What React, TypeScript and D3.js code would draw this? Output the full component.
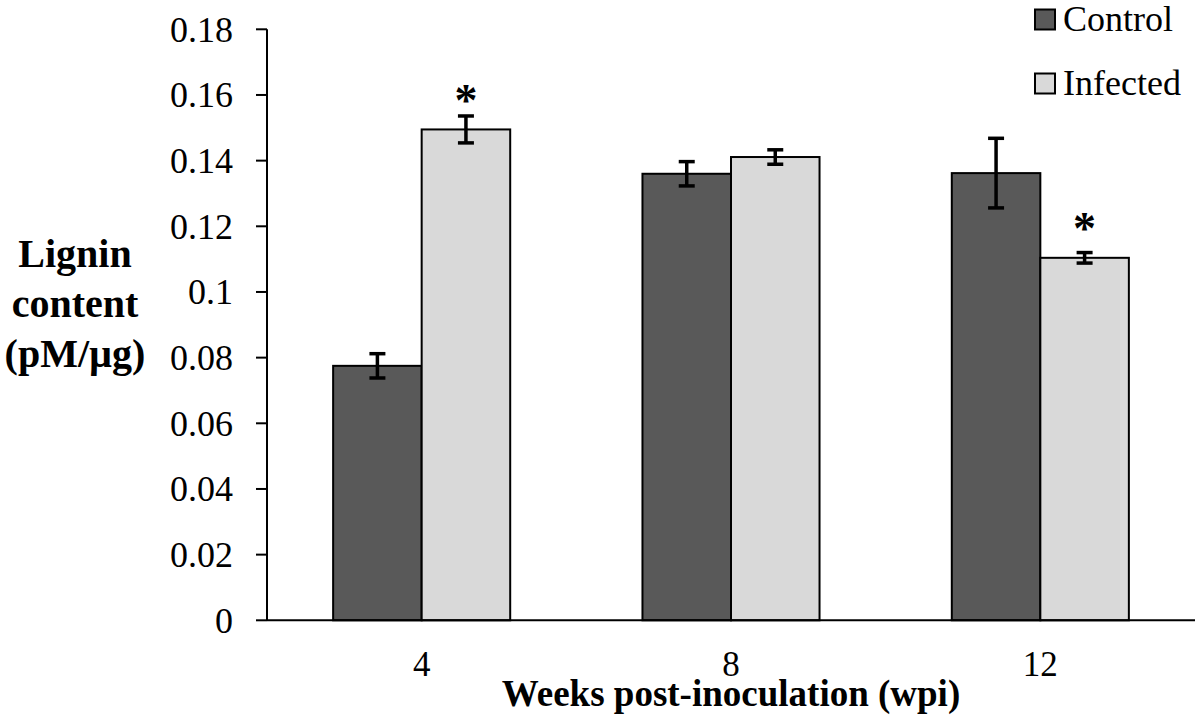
import React from "react";
import * as d3 from "d3";

const weeks = ["4", "8", "12"];
const seriesNames = ["Control", "Infected"];
const controlMeans = [0.0775, 0.136, 0.1362];
const controlErrors = [0.0037, 0.0037, 0.0106];
const infectedMeans = [0.1495, 0.1411, 0.1104];
const infectedErrors = [0.0041, 0.0022, 0.0016];
const significant = [
  [false, true],
  [false, false],
  [false, true],
];
const yTicks = [0, 0.02, 0.04, 0.06, 0.08, 0.1, 0.12, 0.14, 0.16, 0.18];
const yTitleLines = ["Lignin", "content", "(pM/µg)"];
const xTitle = "Weeks post-inoculation (wpi)";

const colors = ["#595959", "#d9d9d9"];
const serif = { fontFamily: "'Liberation Serif'" };

export default function App() {
  const width = 1200;
  const height = 722;
  const left = 267;
  const right = 1195;
  const top = 29.3;
  const bottom = 620.3;

  const x = d3.scaleBand<string>().domain(weeks).range([left, right]);
  const xSub = d3
    .scaleBand<string>()
    .domain(seriesNames)
    .range([0, x.bandwidth()])
    .paddingInner(0)
    .paddingOuter(0.747);
  const y = d3.scaleLinear().domain([0, 0.18]).range([bottom, top]);

  const means = [controlMeans, infectedMeans];
  const errors = [controlErrors, infectedErrors];
  const fmt = (v: number) => String(+v.toFixed(2));

  return (
    <div style={{ position: "fixed", left: 0, top: 0 }}>
      <svg width={width} height={height} style={{ display: "block", background: "#fff" }}>
        {/* bars */}
        {seriesNames.map((name, s) =>
          weeks.map((w, i) => (
            <rect
              key={name + w}
              x={(x(w) as number) + (xSub(name) as number)}
              y={y(means[s][i])}
              width={xSub.bandwidth()}
              height={bottom - y(means[s][i])}
              fill={colors[s]}
              stroke="#000"
              strokeWidth={2}
            />
          ))
        )}

        {/* error bars and significance marks */}
        {seriesNames.map((name, s) =>
          weeks.map((w, i) => {
            const cx = (x(w) as number) + (xSub(name) as number) + xSub.bandwidth() / 2;
            const hi = y(means[s][i] + errors[s][i]);
            const lo = y(means[s][i] - errors[s][i]);
            return (
              <g key={"e" + name + w}>
                <g stroke="#000" strokeWidth={3.5}>
                  <line x1={cx} x2={cx} y1={hi} y2={lo} />
                  <line x1={cx - 8} x2={cx + 8} y1={hi} y2={hi} />
                  <line x1={cx - 8} x2={cx + 8} y1={lo} y2={lo} />
                </g>
                {significant[i][s] && (
                  <text
                    x={cx}
                    y={y(means[s][i]) - 13.5}
                    textAnchor="middle"
                    style={{ ...serif, fontWeight: "bold", fontSize: 46 }}
                  >
                    *
                  </text>
                )}
              </g>
            );
          })
        )}

        {/* y axis */}
        <line x1={left} x2={left} y1={top} y2={bottom} stroke="#000" strokeWidth={2} />
        {yTicks.map((t) => (
          <g key={t} transform={`translate(0,${y(t)})`}>
            <line x1={left - 11} x2={left} stroke="#000" strokeWidth={2} />
            <text x={233} dy="0.34em" textAnchor="end" style={{ ...serif, fontSize: 36 }}>
              {fmt(t)}
            </text>
          </g>
        ))}

        {/* x axis */}
        <line x1={left} x2={right} y1={bottom} y2={bottom} stroke="#000" strokeWidth={2} />
        {weeks.map((w) => (
          <text
            key={w}
            x={(x(w) as number) + x.bandwidth() / 2}
            y={676}
            textAnchor="middle"
            style={{ ...serif, fontSize: 35 }}
          >
            {w}
          </text>
        ))}

        {/* titles */}
        <text textAnchor="middle" style={{ ...serif, fontWeight: "bold", fontSize: 40 }}>
          {yTitleLines.map((line, i) => (
            <tspan key={line} x={75} y={267 + i * 50}>
              {line}
            </tspan>
          ))}
        </text>
        <text
          x={(left + right) / 2}
          y={706}
          textAnchor="middle"
          style={{ ...serif, fontWeight: "bold", fontSize: 37 }}
        >
          {xTitle}
        </text>

        {/* legend */}
        {seriesNames.map((name, s) => (
          <g key={"l" + name} transform={`translate(1035,${9.5 + s * 64})`}>
            <rect width={20} height={20} fill={colors[s]} stroke="#000" strokeWidth={2} />
            <text x={28} y={21.5} style={{ ...serif, fontSize: 36 }}>
              {name}
            </text>
          </g>
        ))}
      </svg>
    </div>
  );
}
